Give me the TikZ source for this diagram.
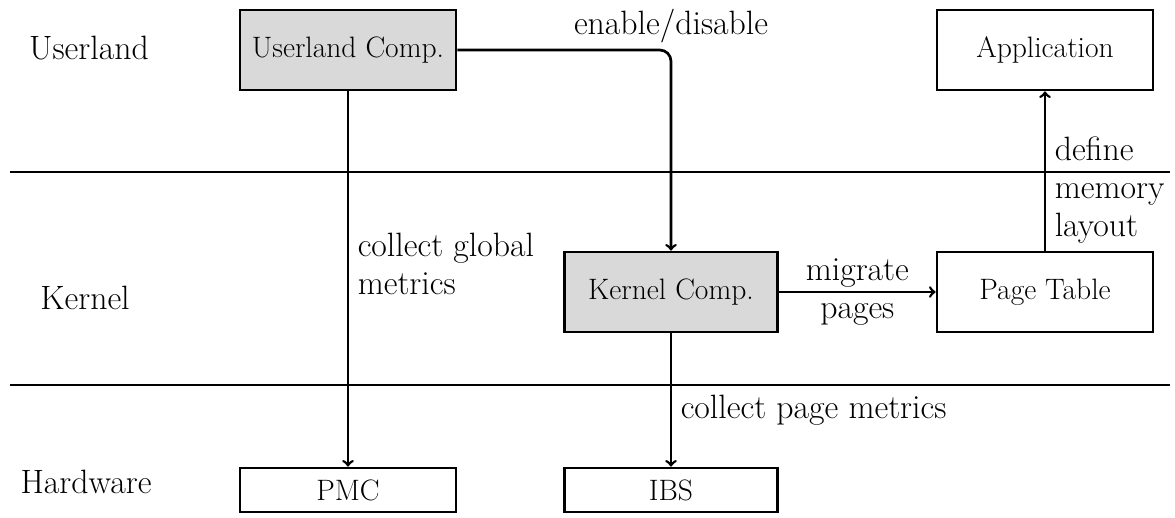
\documentclass[tikz,border=0pt]{standalone}
\usetikzlibrary{positioning}

\newcommand{\boxfont}{\fontsize{21}{24}\selectfont}
\newcommand{\lblfont}{\fontsize{24}{27}\selectfont}

\tikzset{
    comp/.style={draw, line width=1.9pt, fill=gray!30, minimum width=5.4cm, minimum height=2cm, font=\boxfont},
    plain/.style={draw, line width=1.9pt, minimum width=5.4cm, minimum height=2cm, font=\boxfont},
    hw/.style={plain, minimum height=1.1cm},
    layer/.style={font=\lblfont},
    lbl/.style={font=\lblfont, align=left, inner sep=2pt},
    flow/.style={->, line width=1.9pt},
    sep/.style={line width=1.3pt}
}

\begin{document}
\begin{tikzpicture}[x=0.025cm, y=-0.025cm]
    \useasboundingbox (0,0) rectangle (1175,518);

    % layers
    \node[layer] (userland) at (89,48) {Userland};
    \node[layer] (kernel) at (85,298) {Kernel};
    \node[layer] (hardware) at (86,482) {Hardware};
    \draw[sep] (10,172) -- (1170,172);
    \draw[sep] (10,385) -- (1170,385);

    % components
    \node[comp] (ucomp) at (348,50) {Userland Comp.};
    \node[plain] (app) at (1045,50) {Application};
    \node[comp, minimum width=5.33cm] (kcomp) at (671,292) {Kernel Comp.};
    \node[plain] (ptable) at (1045,292) {Page Table};
    \node[hw] (pmc) at (348,490) {PMC};
    \node[hw, minimum width=5.33cm] (ibs) at (671,490) {IBS};

    % connectors
    \draw[flow, rounded corners=8pt] (ucomp.east) -| node[lbl, above, pos=0.5, yshift=2pt] {enable/disable} (kcomp.north);
    \draw[flow] (ucomp.south) -- node[lbl, right, pos=0.46, xshift=4pt] {collect global\\metrics} (pmc.north);
    \draw[flow] (kcomp.east) -- node[lbl, align=center] {migrate\\pages} (ptable.west);
    \draw[flow] (ptable.north) -- node[lbl, right, pos=0.38, xshift=4pt] {define\\memory\\layout} (app.south);
    \draw[flow] (kcomp.south) -- node[lbl, right, pos=0.58, xshift=4pt] {collect page metrics} (ibs.north);
\end{tikzpicture}
\end{document}
